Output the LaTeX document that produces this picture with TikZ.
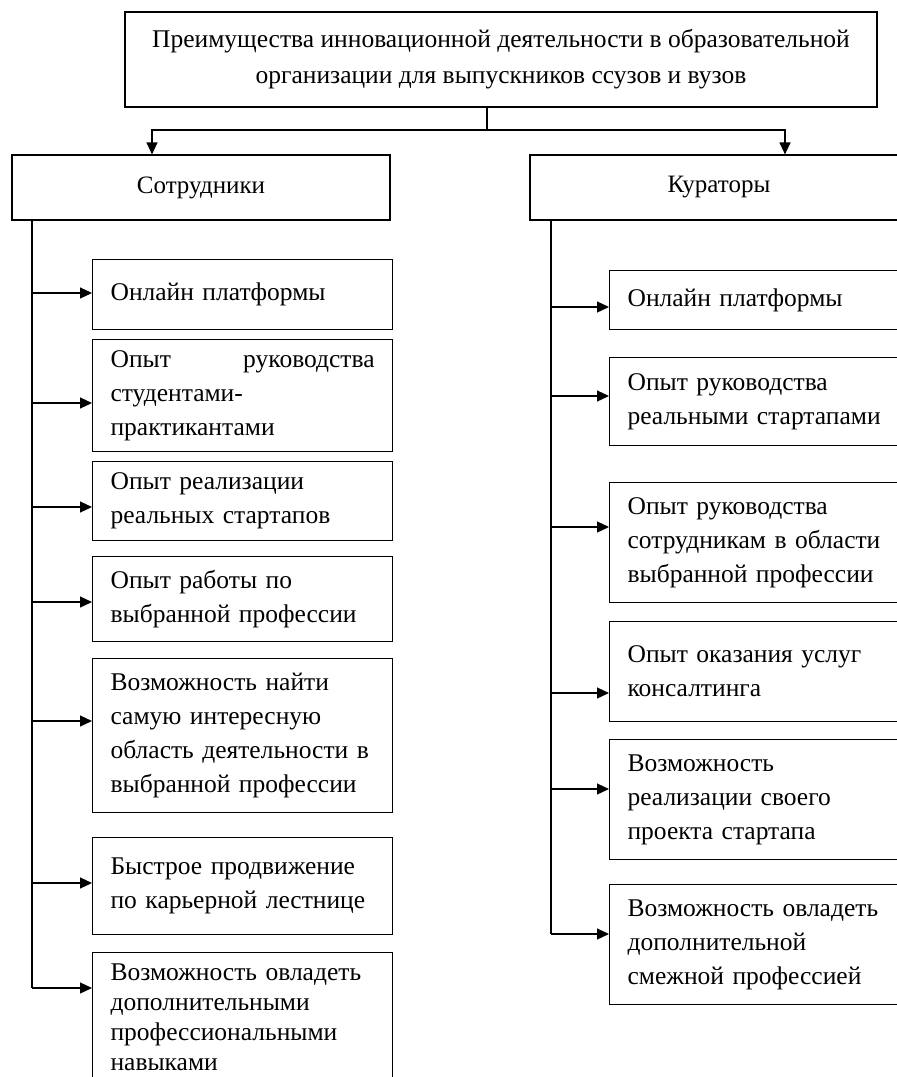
\documentclass[tikz,border=0pt]{standalone}
\usepackage{fontspec}
\setmainfont{Liberation Serif}
\usetikzlibrary{arrows.meta}

\tikzset{
  head/.style={draw, line width=1.2pt, minimum width=378pt, minimum height=65pt, font=\fontsize{25}{30}\selectfont},
  item/.style={draw, line width=1.2pt, anchor=north west, text width=264pt, inner xsep=18pt, align=left, font=\fontsize{25.5}{34}\selectfont},
  link/.style={line width=1.2pt, -{Triangle[length=12pt,width=11pt]}}
}

\begin{document}
\begin{tikzpicture}[x=1pt, y=-1pt]
\useasboundingbox (0,0) rectangle (897,1077);
\clip (0,0) rectangle (897,1077);

\node[draw, line width=1.2pt, minimum width=752pt, minimum height=95pt, align=center, font=\fontsize{25.5}{36}\selectfont] (title) at (501,59.5) {Преимущества инновационной деятельности в образовательной\\организации для выпускников ссузов и вузов};

\node[head] (staff) at (201,187.5) {Сотрудники};
\node[head] (cur) at (719,187.5) {Кураторы};

% split from the title
\coordinate (fork) at (487,130);
\coordinate (forkL) at (152,130);
\coordinate (forkR) at (785,130);
\draw[line width=1.2pt] (title.south -| fork) -- (fork);
\draw[link] (fork) -- (forkL) -- (forkL |- staff.north);
\draw[link] (fork) -- (forkR) -- (forkR |- cur.north);

% employees
\node[item, minimum height=70pt] (s1) at (92,259) {Онлайн платформы};
\node[item, minimum height=112pt] (s2) at (92,339) {Опыт \hfill руководства\\студентами-\\практикантами};
\node[item, minimum height=79pt] (s3) at (92,461) {Опыт реализации\\реальных стартапов};
\node[item, minimum height=85pt] (s4) at (92,556) {Опыт работы по\\выбранной профессии};
\node[item, minimum height=154pt] (s5) at (92,658) {Возможность найти\\самую интересную\\область деятельности в\\выбранной профессии};
\node[item, minimum height=97pt] (s6) at (92,837) {Быстрое продвижение\\по карьерной лестнице};
\node[item, inner ysep=11pt, font=\fontsize{25.5}{30}\selectfont] (s7) at (92,952) {Возможность овладеть\\дополнительными\\профессиональными\\навыками};

\coordinate (a1) at (32,293);
\coordinate (a2) at (32,403);
\coordinate (a3) at (32,507);
\coordinate (a4) at (32,602);
\coordinate (a5) at (32,721);
\coordinate (a6) at (32,883);
\coordinate (a7) at (32,988);
\draw[line width=1.2pt] (staff.south -| a1) -- (a7);
\draw[link] (a1) -- (a1 -| s1.west);
\draw[link] (a2) -- (a2 -| s2.west);
\draw[link] (a3) -- (a3 -| s3.west);
\draw[link] (a4) -- (a4 -| s4.west);
\draw[link] (a5) -- (a5 -| s5.west);
\draw[link] (a6) -- (a6 -| s6.west);
\draw[link] (a7) -- (a7 -| s7.west);

% curators
\node[item, minimum height=59pt] (k1) at (609,270) {Онлайн платформы};
\node[item, minimum height=88pt] (k2) at (609,357) {Опыт руководства\\реальными стартапами};
\node[item, minimum height=120pt] (k3) at (609,482) {Опыт руководства\\сотрудникам в области\\выбранной профессии};
\node[item, minimum height=100pt] (k4) at (609,621) {Опыт оказания услуг\\консалтинга};
\node[item, minimum height=120pt] (k5) at (609,739) {Возможность\\реализации своего\\проекта стартапа};
\node[item, minimum height=120pt] (k6) at (609,884) {Возможность овладеть\\дополнительной\\смежной профессией};

\coordinate (b1) at (551,307);
\coordinate (b2) at (551,396);
\coordinate (b3) at (551,527);
\coordinate (b4) at (551,693);
\coordinate (b5) at (551,789);
\coordinate (b6) at (551,934);
\draw[line width=1.2pt] (cur.south -| b1) -- (b6);
\draw[link] (b1) -- (b1 -| k1.west);
\draw[link] (b2) -- (b2 -| k2.west);
\draw[link] (b3) -- (b3 -| k3.west);
\draw[link] (b4) -- (b4 -| k4.west);
\draw[link] (b5) -- (b5 -| k5.west);
\draw[link] (b6) -- (b6 -| k6.west);

\end{tikzpicture}
\end{document}
